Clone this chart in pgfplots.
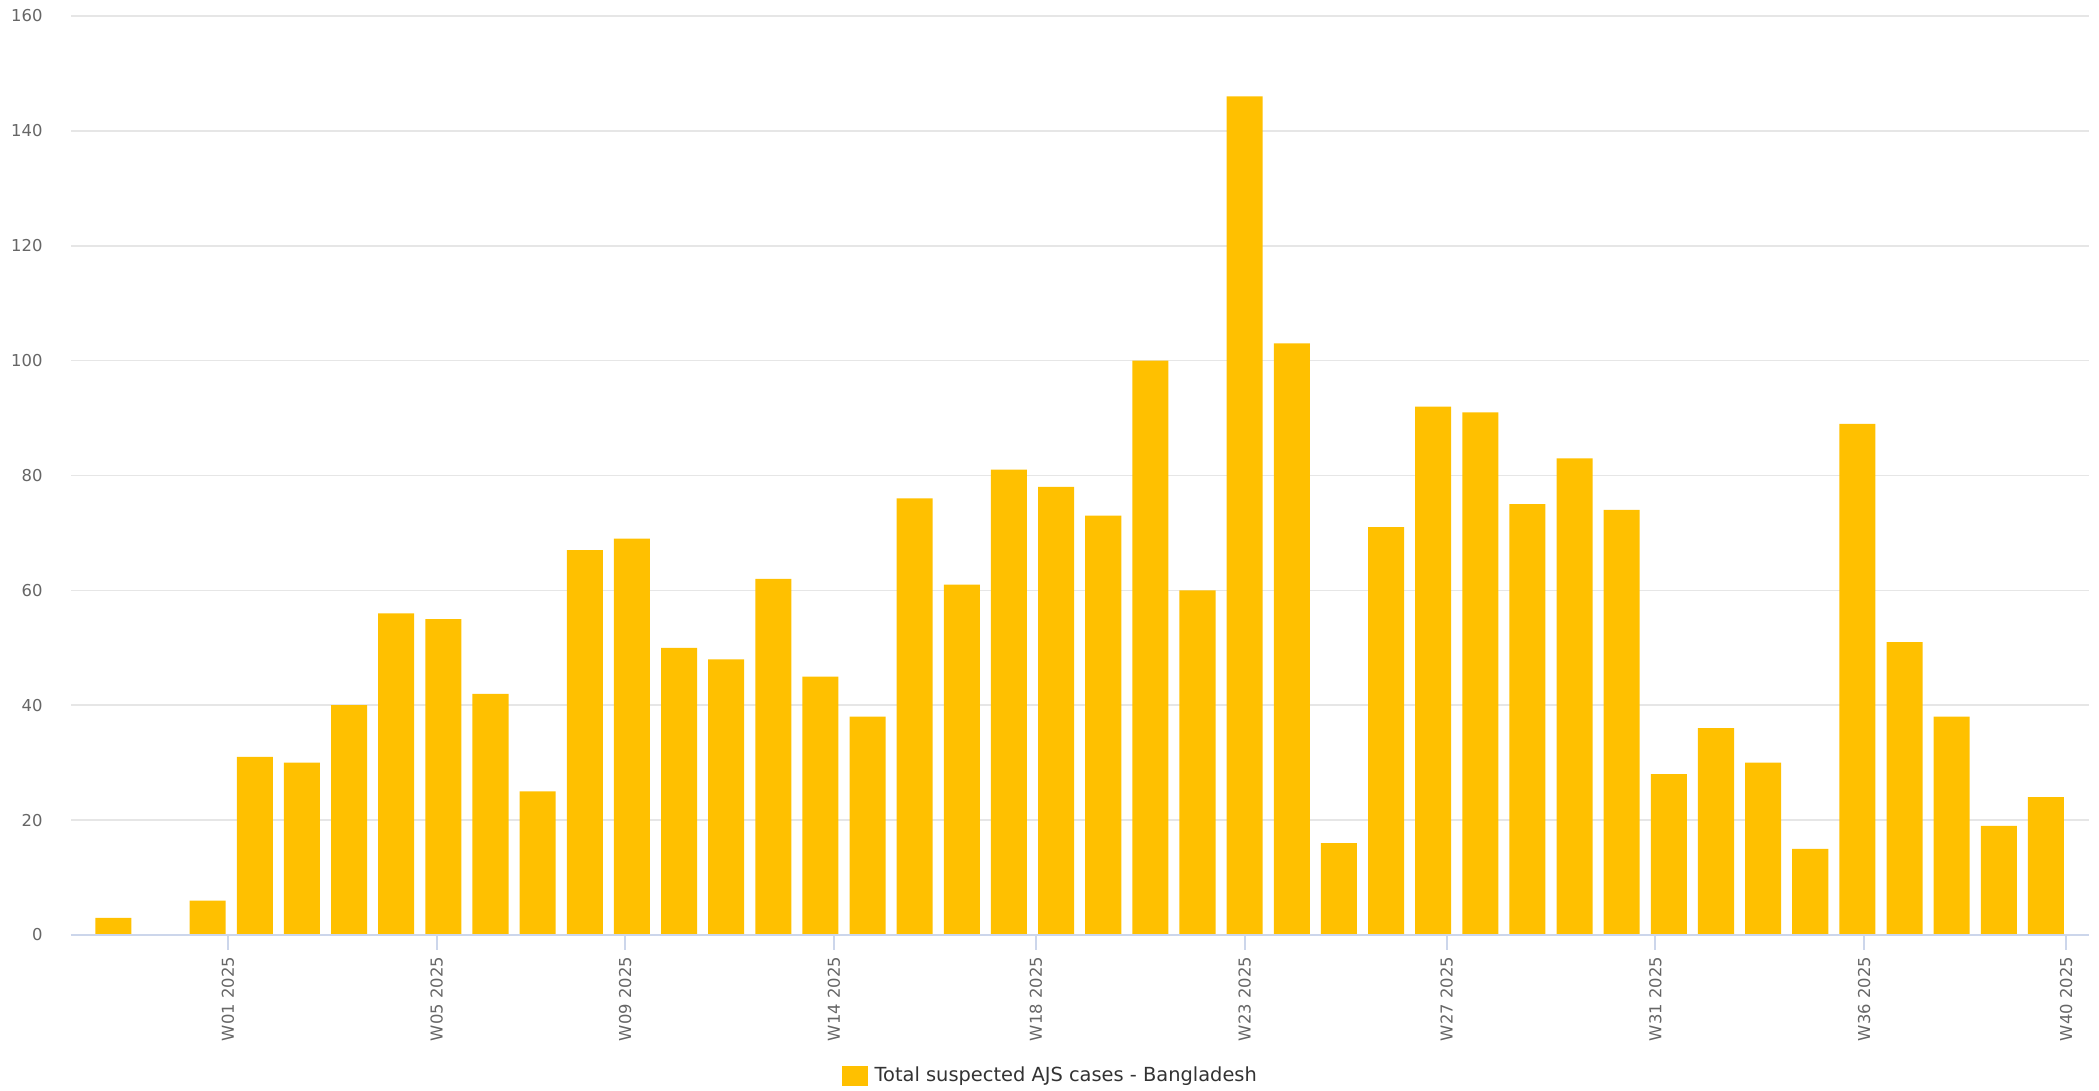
\documentclass[border=0pt]{standalone}
\usepackage{pgfplots}
\pgfplotsset{compat=1.18}
\usepackage{fontspec}
\setmainfont{DejaVu Sans}
\definecolor{barcol}{HTML}{FFC000}
\definecolor{gridcol}{HTML}{E6E6E6}
\definecolor{axcol}{HTML}{CCD6EB}
\definecolor{labcol}{HTML}{666666}
\definecolor{legtext}{HTML}{333333}
\begin{document}
\begin{tikzpicture}
\begin{axis}[
  scale only axis,
  width=1009pt, height=459.5pt,
  at={(0,0)}, anchor=south west,
  xmin=-23.3, xmax=276.4, ymin=0, ymax=160,
  clip=false,
  ybar, bar width=5.35,
  axis line style={draw=none},
  ytick={0,20,...,160},
  xtick={0,31,59,90,120,151,181,212,243,273},
  xticklabels={W01 2025,W05 2025,W09 2025,W14 2025,W18 2025,W23 2025,W27 2025,W31 2025,W36 2025,W40 2025},
  tick align=outside,
  major tick length=7.5pt,
  xtick pos=bottom,
  ytick style={draw=none},
  xtick style={draw=axcol, line width=1pt},
  ymajorgrids,
  major grid style={draw=gridcol, line width=0.8pt},
  /pgf/number format/assume math mode=true,
  tick label style={font=\fontsize{8.2}{10}\selectfont, text=labcol},
  x tick label style={rotate=90, anchor=east},
  y tick label style={anchor=east, xshift=-3.2pt},
  legend style={at={(0.4865,-0.1534)}, anchor=center, draw=none, fill=none,
    font=\fontsize{9.7}{11}\selectfont, text=legtext, inner sep=0pt,
    nodes={inner xsep=3.3pt},
    /tikz/every even column/.append style={column sep=0pt}},
  legend image code/.code={\fill[barcol] (0pt,-5pt) rectangle (13pt,5pt);},
]
\addplot[fill=barcol, draw=none] coordinates {
(-17,3) (-3,6) (4,31) (11,30) (18,40) (25,56) (32,55) (39,42) (46,25)
(53,67) (60,69) (67,50) (74,48) (81,62) (88,45) (95,38) (102,76) (109,61)
(116,81) (123,78) (130,73) (137,100) (144,60) (151,146) (158,103) (165,16)
(172,71) (179,92) (186,91) (193,75) (200,83) (207,74) (214,28) (221,36)
(228,30) (235,15) (242,89) (249,51) (256,38) (263,19) (270,24)
};
\addlegendentry{Total suspected AJS cases - Bangladesh}
\draw[axcol, line width=1pt] (rel axis cs:0,0) -- (rel axis cs:1,0);
\end{axis}
\pgfresetboundingbox
\path[use as bounding box] (-35.5pt,-78pt) rectangle (1014pt,467.5pt);
\end{tikzpicture}
\end{document}
